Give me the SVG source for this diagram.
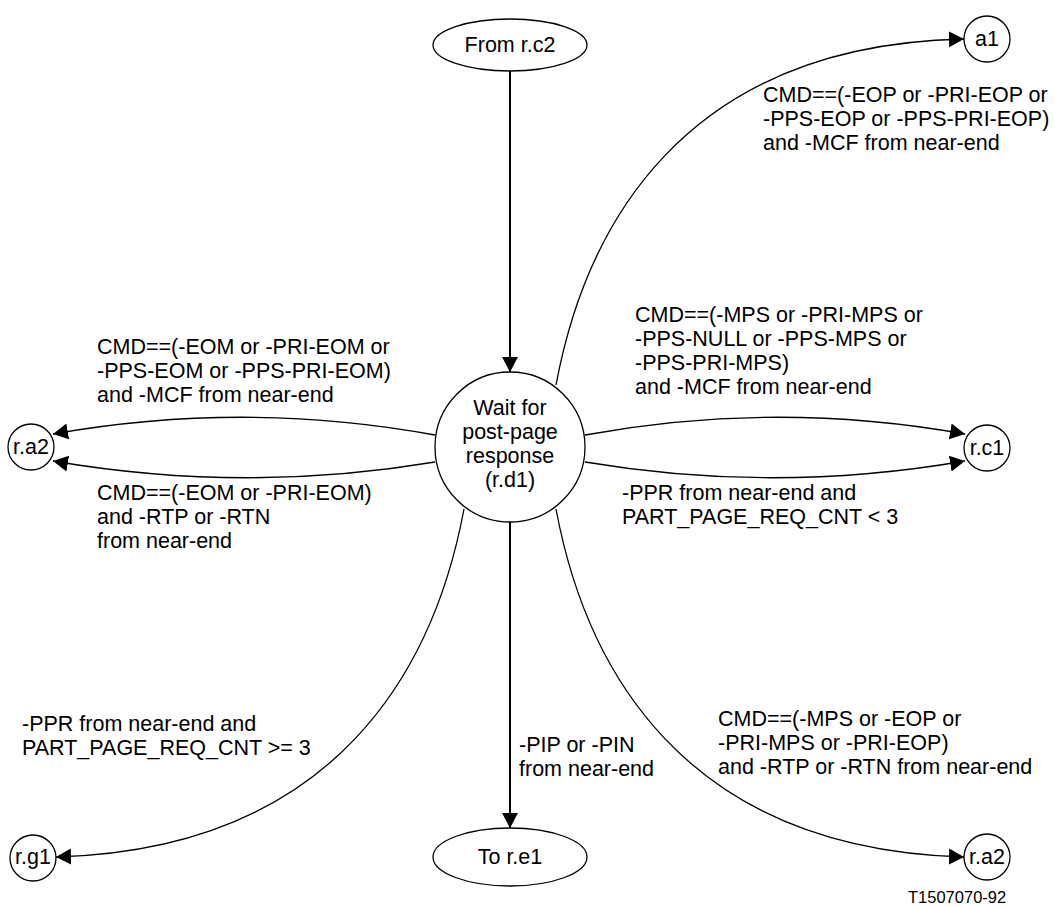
<svg xmlns="http://www.w3.org/2000/svg" width="1055" height="907" viewBox="0 0 1055 907">
<style>
text{font-family:"Liberation Sans",Arial,sans-serif;font-size:21.5px;fill:#000}
.c{text-anchor:middle}
.n{fill:#fff;stroke:#000;stroke-width:1.3}
.e{fill:none;stroke:#000;stroke-width:1.3}
.v{fill:none;stroke:#000;stroke-width:2}
.small{font-size:16.5px}
</style>
<defs>
<marker id="ah" markerUnits="userSpaceOnUse" markerWidth="16" markerHeight="18" refX="15" refY="8" orient="auto" viewBox="0 0 16 16">
<path d="M0,0 L15,8 L0,16 Z" fill="#000"/>
</marker>
</defs>
<rect width="1055" height="907" fill="#fff"/>
<g id="connectors">
<path class="v" d="M510,71 L510,372" marker-end="url(#ah)"/>
<path class="v" d="M510,522 L510,828" marker-end="url(#ah)"/>
<path class="e" d="M556,385 C585,230 680,45 964,39" marker-end="url(#ah)"/>
<path class="e" d="M435,435 Q245,400 53,434" marker-end="url(#ah)"/>
<path class="e" d="M435,462 Q245,494 53,461" marker-end="url(#ah)"/>
<path class="e" d="M585,435 Q775,400 965,434" marker-end="url(#ah)"/>
<path class="e" d="M585,462 Q775,494 965,461" marker-end="url(#ah)"/>
<path class="e" d="M464,509 C435,664 340,849 56,857" marker-end="url(#ah)"/>
<path class="e" d="M556,509 C585,664 680,849 964,857" marker-end="url(#ah)"/>
</g>
<g id="labels">
<text x="763" y="102">CMD==(-EOP or -PRI-EOP or</text>
<text x="763" y="126">-PPS-EOP or -PPS-PRI-EOP)</text>
<text x="763" y="150">and -MCF from near-end</text>
<text x="635" y="322">CMD==(-MPS or -PRI-MPS or</text>
<text x="635" y="346">-PPS-NULL or -PPS-MPS or</text>
<text x="635" y="370">-PPS-PRI-MPS)</text>
<text x="635" y="394">and -MCF from near-end</text>
<text x="97" y="354">CMD==(-EOM or -PRI-EOM or</text>
<text x="97" y="378">-PPS-EOM or -PPS-PRI-EOM)</text>
<text x="97" y="402">and -MCF from near-end</text>
<text x="97" y="500">CMD==(-EOM or -PRI-EOM)</text>
<text x="97" y="524">and -RTP or -RTN</text>
<text x="97" y="548">from near-end</text>
<text x="622" y="500">-PPR from near-end and</text>
<text x="622" y="524">PART_PAGE_REQ_CNT &lt; 3</text>
<text x="22" y="731">-PPR from near-end and</text>
<text x="22" y="755">PART_PAGE_REQ_CNT &gt;= 3</text>
<text x="519" y="752">-PIP or -PIN</text>
<text x="519" y="776">from near-end</text>
<text x="718" y="726">CMD==(-MPS or -EOP or</text>
<text x="718" y="750">-PRI-MPS or -PRI-EOP)</text>
<text x="718" y="774">and -RTP or -RTN from near-end</text>
<text class="small" x="908" y="903">T1507070-92</text>
</g>
<g id="from_rc2">
<ellipse class="n" cx="510" cy="45" rx="77" ry="26"/>
<text class="c" x="510" y="52">From r.c2</text>
</g>
<g id="rd1">
<circle class="n" cx="510" cy="447" r="75"/>
<text class="c" x="510" y="415">Wait for</text>
<text class="c" x="510" y="439">post-page</text>
<text class="c" x="510" y="463">response</text>
<text class="c" x="510" y="487">(r.d1)</text>
</g>
<g id="to_re1">
<ellipse class="n" cx="510" cy="857" rx="77" ry="29"/>
<text class="c" x="510" y="864">To r.e1</text>
</g>
<g id="a1">
<circle class="n" cx="987" cy="39" r="23"/>
<text class="c" x="987" y="46">a1</text>
</g>
<g id="ra2_left">
<circle class="n" cx="31" cy="447" r="23"/>
<text class="c" x="31" y="454">r.a2</text>
</g>
<g id="rc1">
<circle class="n" cx="987" cy="448" r="23"/>
<text class="c" x="987" y="455">r.c1</text>
</g>
<g id="rg1">
<circle class="n" cx="33" cy="858" r="23"/>
<text class="c" x="33" y="864">r.g1</text>
</g>
<g id="ra2_right">
<circle class="n" cx="987" cy="857" r="23"/>
<text class="c" x="987" y="864">r.a2</text>
</g>
</svg>
